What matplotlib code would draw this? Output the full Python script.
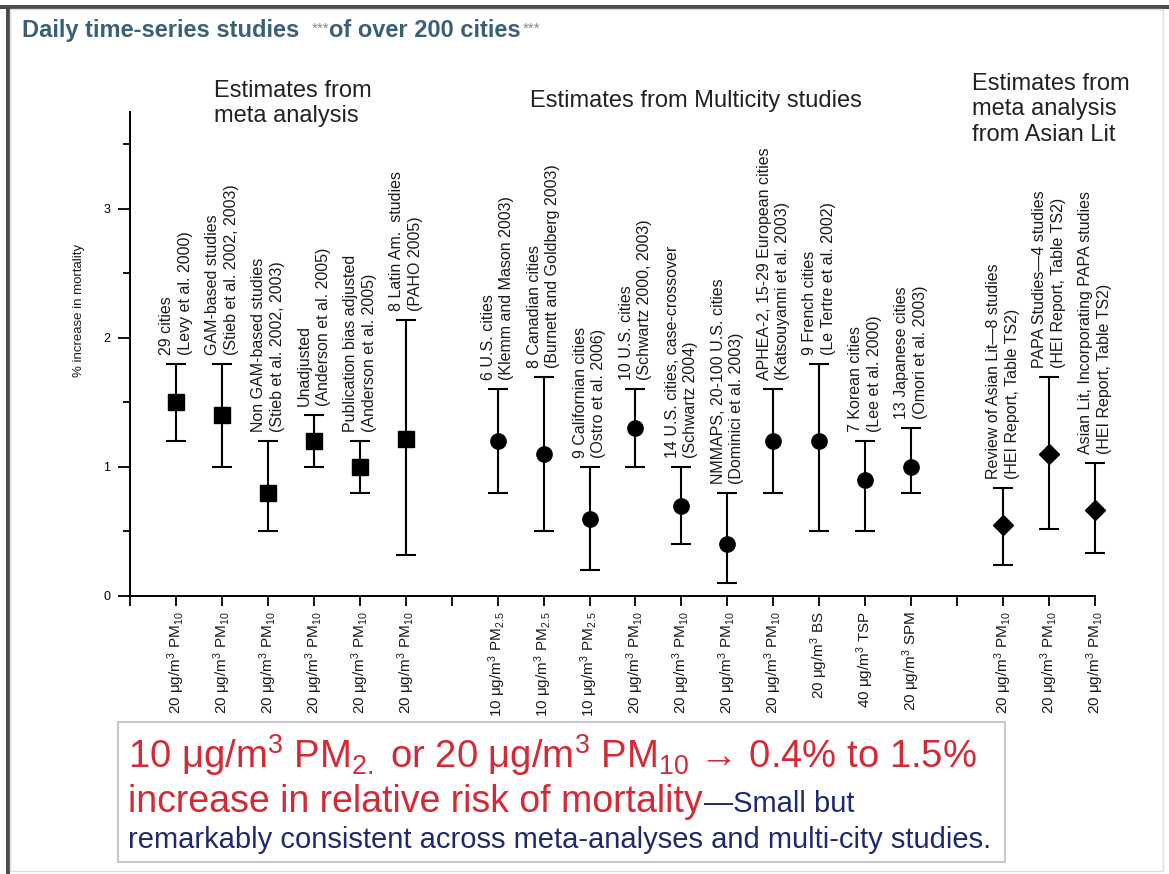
import matplotlib.pyplot as plt
from matplotlib.patches import Rectangle
from matplotlib.ticker import MultipleLocator

plt.rcParams['font.family'] = ['Liberation Sans', 'DejaVu Sans']
plt.rcParams['mathtext.fontset'] = 'custom'
plt.rcParams['mathtext.rm'] = 'Liberation Sans'
plt.rcParams['mathtext.it'] = 'Liberation Sans:italic'
plt.rcParams['mathtext.bf'] = 'Liberation Sans:bold'

# % increase in mortality: estimate with lower / upper bound
meta_pos = [1, 2, 3, 4, 5, 6]
meta_est = [1.5, 1.4, 0.8, 1.2, 1.0, 1.22]
meta_lo = [1.2, 1.0, 0.5, 1.0, 0.8, 0.32]
meta_hi = [1.8, 1.8, 1.2, 1.4, 1.2, 2.14]
meta_names = [
    "29 cities\n(Levy et al. 2000)",
    "GAM-based studies\n(Stieb et al. 2002, 2003)",
    "Non GAM-based studies\n(Stieb et al. 2002, 2003)",
    "Unadjusted\n(Anderson et al. 2005)",
    "Publication bias adjusted\n(Anderson et al. 2005)",
    "8 Latin Am.  studies\n(PAHO 2005)",
]

multi_pos = [8, 9, 10, 11, 12, 13, 14, 15, 16, 17]
multi_est = [1.2, 1.1, 0.6, 1.3, 0.7, 0.4, 1.2, 1.2, 0.9, 1.0]
multi_lo = [0.8, 0.5, 0.2, 1.0, 0.4, 0.1, 0.8, 0.5, 0.5, 0.8]
multi_hi = [1.6, 1.7, 1.0, 1.6, 1.0, 0.8, 1.6, 1.8, 1.2, 1.3]
multi_names = [
    "6 U.S. cities\n(Klemm and Mason 2003)",
    "8 Canadian cities\n(Burnett and Goldberg 2003)",
    "9 Californian cities\n(Ostro et al. 2006)",
    "10 U.S. cities\n(Schwartz 2000, 2003)",
    "14 U.S. cities, case-crossover\n(Schwartz 2004)",
    "NMMAPS, 20-100 U.S. cities\n(Dominici et al. 2003)",
    "APHEA-2, 15-29 European cities\n(Katsouyanni et al. 2003)",
    "9 French cities\n(Le Tertre et al. 2002)",
    "7 Korean cities\n(Lee et al. 2000)",
    "13 Japanese cities\n(Omori et al. 2003)",
]

asia_pos = [19, 20, 21]
asia_est = [0.55, 1.1, 0.67]
asia_lo = [0.24, 0.52, 0.33]
asia_hi = [0.84, 1.7, 1.03]
asia_names = [
    "Review of Asian Lit\u20148 studies\n(HEI Report, Table TS2)",
    "PAPA Studies\u20144 studies\n(HEI Report, Table TS2)",
    "Asian Lit, Incorporating PAPA studies\n(HEI Report, Table TS2)",
]

pm10 = "20 \u03bcg/m$^3$ PM$_{10}$"
pm25 = "10 \u03bcg/m$^3$ PM$_{2.5}$"
tick_pos = list(range(0, 22))
tick_labels = ["", pm10, pm10, pm10, pm10, pm10, pm10, "",
               pm25, pm25, pm25, pm10, pm10, pm10, pm10,
               "20 \u03bcg/m$^3$ BS", "40 \u03bcg/m$^3$ TSP", "20 \u03bcg/m$^3$ SPM", "",
               pm10, pm10, pm10]

red = '#d42a36'
navy = '#1f2a6b'
title_c = '#3b6076'
ink = '#1a1a1a'

fig = plt.figure(figsize=(11.69, 8.74), dpi=100)
ax = fig.add_axes([0.1112, 0.3181, 0.8255, 0.5538])

groups = [
    (meta_pos, meta_est, meta_lo, meta_hi, meta_names, 's', 11),
    (multi_pos, multi_est, multi_lo, multi_hi, multi_names, 'o', 11),
    (asia_pos, asia_est, asia_lo, asia_hi, asia_names, 'D', 10),
]
for pos, est, lo, hi, names, mk, ms in groups:
    yerr = [[e - l for e, l in zip(est, lo)], [h - e for e, h in zip(est, hi)]]
    bars = ax.errorbar(pos, est, yerr=yerr, fmt=mk, color='black', ms=ms,
                       capsize=7, elinewidth=1.5, capthick=1.5)
    for art in bars.get_children():
        art.set_clip_on(False)
    for x, h, name in zip(pos, hi, names):
        ax.text(x, h + 0.07, name, rotation=90, ha='center', va='bottom',
                multialignment='left', fontsize=11.5, linespacing=1.3, color=ink)

ax.set_xlim(0, 21)
ax.set_ylim(0, 3.75)
ax.set_xticks(tick_pos)
ax.set_xticklabels(tick_labels, rotation=90, fontsize=11, color=ink)
ax.set_yticks([0, 1, 2, 3])
ax.yaxis.set_minor_locator(MultipleLocator(0.5))
ax.tick_params(axis='y', which='major', length=9, width=1.3, pad=5, labelsize=9)
ax.tick_params(axis='y', which='minor', length=5, width=1.3)
ax.tick_params(axis='x', length=7, width=1.3, pad=4)
for side in ['top', 'right']:
    ax.spines[side].set_visible(False)
for side in ['left', 'bottom']:
    ax.spines[side].set_linewidth(1.4)

fig.text(0.068, 0.645, "% increase in mortality", rotation=90, ha='center',
         va='center', fontsize=9.5, color=ink)

# group headings
fig.text(0.183, 0.9085, "Estimates from\nmeta analysis", fontsize=17,
         va='top', ha='left', color='#222222')
fig.text(0.453, 0.897, "Estimates from Multicity studies", fontsize=17,
         va='top', ha='left', color='#222222')
fig.text(0.8315, 0.9165, "Estimates from\nmeta analysis\nfrom Asian Lit",
         fontsize=17, va='top', ha='left', color='#222222')

# title
t1 = fig.text(0.0188, 0.9577, "Daily time-series studies", fontsize=17,
              weight='bold', color=title_c, va='baseline')
a1 = ax.annotate("***", xy=(1, 1), xycoords=t1, xytext=(9, -2),
                 textcoords='offset points', va='top', ha='left',
                 fontsize=11, color='#7a8c98', annotation_clip=False)
t2 = ax.annotate("of over 200 cities", xy=(1, 0), xycoords=(a1, t1),
                 va='bottom', ha='left', fontsize=17, weight='bold',
                 color=title_c, annotation_clip=False)
ax.annotate("***", xy=(1, 1), xycoords=t2, xytext=(1, -2),
            textcoords='offset points', va='top', ha='left',
            fontsize=11, color='#7a8c98', annotation_clip=False)

# summary box
fig.patches.append(Rectangle((0.101, 0.0137), 0.759, 0.160, transform=fig.transFigure,
                             facecolor='white', edgecolor='#c8c8c8', lw=1.5,
                             zorder=-1))
fig.text(0.1095, 0.121,
         "10 \u03bcg/m$^3$ PM$_{2.}$ or 20 \u03bcg/m$^3$ PM$_{10}$ \u2192 0.4% to 1.5%",
         fontsize=27.5, color=red, va='baseline')
b2 = fig.text(0.1095, 0.071, "increase in relative risk of mortality",
              fontsize=27, color=red, va='baseline')
ax.annotate("\u2014Small but", xy=(1, 0), xycoords=b2, xytext=(1, 1.5),
            textcoords='offset points', va='bottom', ha='left',
            fontsize=21, color=navy, annotation_clip=False)
fig.text(0.1095, 0.030,
         "remarkably consistent across meta-analyses and multi-city studies.",
         fontsize=21, color=navy, va='baseline')

# slide frame
fig.patches.append(Rectangle((0, 0.9897), 1, 0.0046, transform=fig.transFigure,
                             facecolor='#4a4a4a', edgecolor='none'))
fig.patches.append(Rectangle((0.0051, 0), 0.0034, 0.9943, transform=fig.transFigure,
                             facecolor='#4a4a4a', edgecolor='none'))
fig.patches.append(Rectangle((0.0085, 0.004), 0.986, 0.9857, transform=fig.transFigure,
                             facecolor='none', edgecolor='#dddddd', lw=1))

fig.savefig('out.png', dpi=100)
